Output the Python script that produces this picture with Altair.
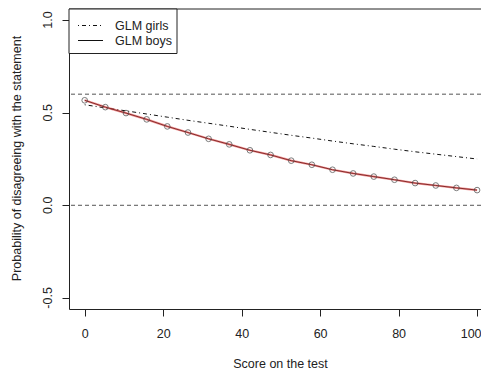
import altair as alt
import pandas as pd

# Data
score = [0.0, 5.26, 10.53, 15.79, 21.05, 26.32, 31.58, 36.84, 42.11, 47.37,
         52.63, 57.89, 63.16, 68.42, 73.68, 78.95, 84.21, 89.47, 94.74, 100.0]
boys = [0.567, 0.530, 0.498, 0.464, 0.426, 0.393, 0.359, 0.329, 0.297, 0.272,
        0.241, 0.219, 0.192, 0.172, 0.155, 0.138, 0.120, 0.107, 0.094, 0.082]
girls = [0.543, 0.526, 0.510, 0.493, 0.476, 0.459, 0.443, 0.427, 0.410, 0.394,
         0.378, 0.363, 0.347, 0.332, 0.318, 0.303, 0.289, 0.276, 0.263, 0.250]
ref_lines = [0.0, 0.6]
legend_labels = ["GLM girls", "GLM boys"]
x_ticks = [0, 20, 40, 60, 80, 100]
y_ticks = [-0.5, 0.0, 0.5, 1.0]
y_tick_labels = ["-0.5", "0.0", "0.5", "1.0"]

FONT = "Liberation Sans"
FS = 12.5
W, H = 412, 300

df = pd.DataFrame({"score": score, "boys": boys, "girls": girls})
ref_df = pd.DataFrame({"y": ref_lines})
ytl_df = pd.DataFrame({"v": y_ticks, "lab": y_tick_labels})
one = pd.DataFrame({"k": [0]})

xs = alt.Scale(domain=[-4, 101.0], nice=False, zero=False)
ys = alt.Scale(domain=[-0.56, 1.06], nice=False, zero=False)

x_axis = alt.Axis(values=x_ticks, grid=False, tickSize=7, tickColor="#222",
                  domainColor="#222", labelFont=FONT, labelFontSize=FS,
                  labelColor="#222", labelBaseline="alphabetic", labelPadding=21,
                  labelFlush=12, labelFlushOffset=4, labelOverlap=False,
                  title="Score on the test", titleFont=FONT, titleFontSize=FS,
                  titleFontWeight="normal", titleColor="#222",
                  titleX=211, titleY=58, titleBaseline="alphabetic",
                  titleAnchor="start", titleAlign="center")
y_axis = alt.Axis(values=y_ticks, grid=False, tickSize=7,
                  tickColor="#222", domainColor="#222", labels=False,
                  title="Probability of disagreeing with the statement",
                  titleFont=FONT, titleFontSize=FS, titleFontWeight="normal",
                  titleColor="#222", titleAngle=-90, titleX=-48.5, titleY=149,
                  titleBaseline="alphabetic", titleAlign="center",
                  titleAnchor="start")

base = alt.Chart(df)

refs = alt.Chart(ref_df).mark_rule(color="#555", strokeDash=[4, 3],
                                   strokeWidth=1).encode(
    y=alt.Y("y:Q", scale=ys, axis=y_axis))

ylabels = alt.Chart(ytl_df).mark_text(font=FONT, fontSize=FS, color="#222",
                                      angle=270, align="center",
                                      baseline="alphabetic").encode(
    y=alt.Y("v:Q", scale=ys, axis=y_axis),
    x=alt.value(-17.5),
    text="lab:N")

girls_line = base.mark_line(color="#111", strokeWidth=1,
                            strokeDash=[1, 3, 4, 3]).encode(
    x=alt.X("score:Q", scale=xs, axis=x_axis),
    y=alt.Y("girls:Q", scale=ys, axis=y_axis))

boys_line = base.mark_line(color="#111", strokeWidth=1).encode(
    x=alt.X("score:Q", scale=xs, axis=x_axis),
    y=alt.Y("boys:Q", scale=ys, axis=y_axis))

red_line = base.mark_line(color="#e8403f", strokeWidth=2.2, opacity=0.55).encode(
    x=alt.X("score:Q", scale=xs, axis=x_axis),
    y=alt.Y("boys:Q", scale=ys, axis=y_axis))

pts = base.mark_point(shape="circle", filled=False, color="#444", size=32,
                      strokeWidth=1).encode(
    x=alt.X("score:Q", scale=xs, axis=x_axis),
    y=alt.Y("boys:Q", scale=ys, axis=y_axis))

# frame top line
top_rule = alt.Chart(one).mark_rule(color="#222", strokeWidth=1).encode(
    x=alt.value(0), x2=alt.value(W), y=alt.value(0))

# legend box
leg_box = alt.Chart(one).mark_rect(fill="white", stroke="#222",
                                   strokeWidth=1).encode(
    x=alt.value(0), x2=alt.value(108), y=alt.value(0), y2=alt.value(44.5))
leg_l1 = alt.Chart(one).mark_rule(color="#111", strokeWidth=1,
                                  strokeDash=[1, 3, 4, 3]).encode(
    x=alt.value(9), x2=alt.value(34), y=alt.value(16.5))
leg_l2 = alt.Chart(one).mark_rule(color="#111", strokeWidth=1).encode(
    x=alt.value(9), x2=alt.value(34), y=alt.value(31.5))
leg_t1 = alt.Chart(one).mark_text(text=legend_labels[0], font=FONT,
                                  fontSize=FS, color="#222", align="left",
                                  baseline="middle").encode(
    x=alt.value(46), y=alt.value(16.5))
leg_t2 = alt.Chart(one).mark_text(text=legend_labels[1], font=FONT,
                                  fontSize=FS, color="#222", align="left",
                                  baseline="middle").encode(
    x=alt.value(46), y=alt.value(31.5))

chart = alt.layer(
    refs, ylabels, girls_line, boys_line, red_line, pts, top_rule,
    leg_box, leg_l1, leg_l2, leg_t1, leg_t2
).properties(
    width=W, height=H,
    autosize=alt.AutoSizeParams(type="none"),
    padding={"left": 61, "top": 1, "right": 0, "bottom": 61},
    background="white",
).configure_view(stroke=None)

chart.save("out.html", embed_options={"renderer": "svg", "actions": False})
